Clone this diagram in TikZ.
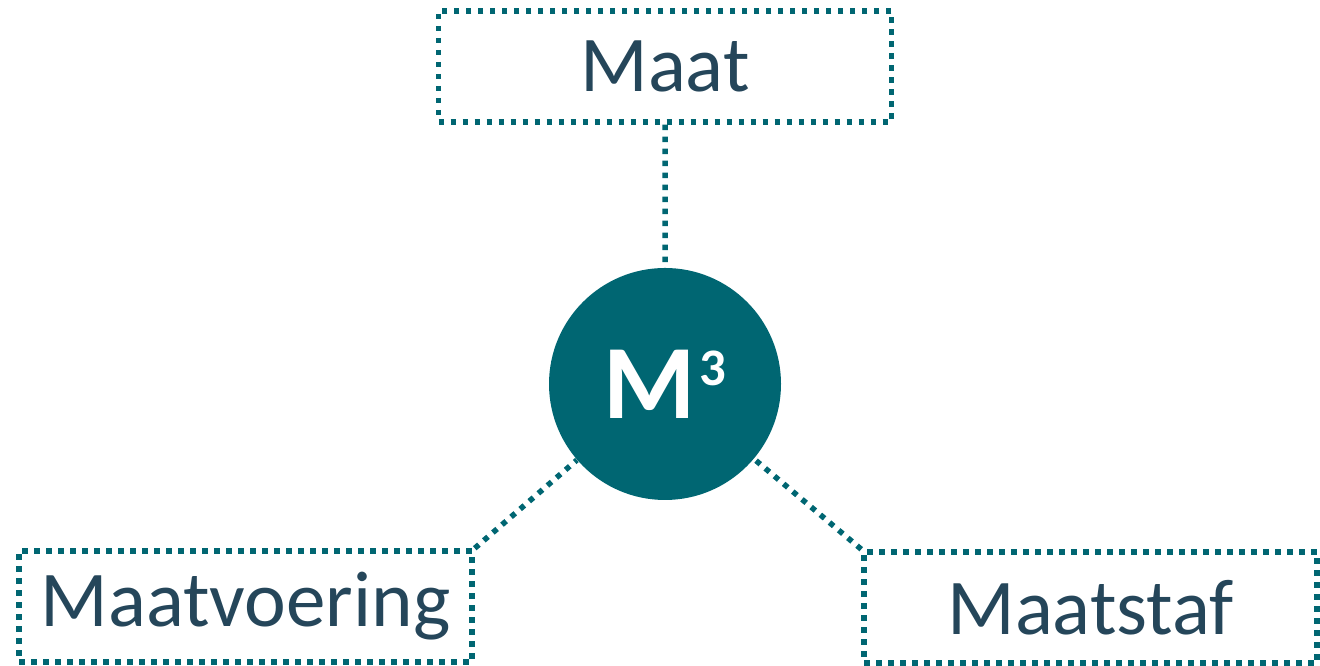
\documentclass[tikz,border=0pt]{standalone}
\usepackage{fontspec}
\setmainfont{Carlito}
\usetikzlibrary{positioning,calc}
\definecolor{mteal}{RGB}{0,102,114}
\definecolor{mtext}{RGB}{37,70,90}
\tikzset{
  dotline/.style={draw=mteal, line width=0.11cm, dash pattern=on 0.11cm off 0.13cm},
  termbox/.style={dotline, rectangle, minimum width=9.06cm, minimum height=2.22cm,
    inner sep=0pt, text=mtext, font=\fontsize{45}{54}\selectfont},
  hub/.style={circle, fill=mteal, minimum size=4.64cm, inner sep=0pt,
    text=white, font=\fontsize{60}{72}\selectfont\bfseries}
}
\begin{document}
\begin{tikzpicture}

      \useasboundingbox (0,0) rectangle (26.4,13.32);

      \node[hub] (m3) at (13.3,5.64) {M\kern2pt\raisebox{18.5pt}{\fontsize{30}{32}\selectfont 3}}; %centre
      \node[termbox] (maat) [above=2.86cm of m3] {Maat};
      \node[termbox] (maatvoering) at (4.91,1.19) {Maatvoering};
      \node[termbox] (maatstaf) at (21.81,1.17) {Maatstaf};

      \path[dotline] (maat.south) -- (m3.north)
                     (maatvoering.north east) -- (m3)
                     (maatstaf.north west) -- (m3);

\end{tikzpicture}
\end{document}
